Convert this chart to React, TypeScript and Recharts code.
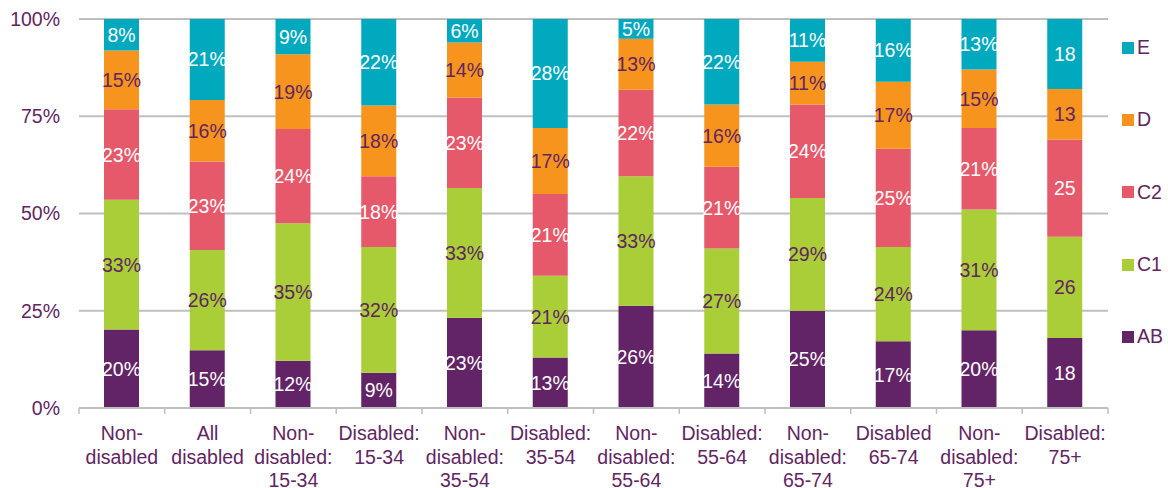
import React from "react";
import { BarChart, Bar, XAxis, YAxis, CartesianGrid, LabelList, Legend } from "recharts";

const categories = [
  "Non-disabled",
  "All disabled",
  "Non-disabled: 15-34",
  "Disabled: 15-34",
  "Non-disabled: 35-54",
  "Disabled: 35-54",
  "Non-disabled: 55-64",
  "Disabled: 55-64",
  "Non-disabled: 65-74",
  "Disabled 65-74",
  "Non-disabled: 75+",
  "Disabled: 75+",
];

const tickLines: string[][] = [
  ["Non-", "disabled"],
  ["All", "disabled"],
  ["Non-", "disabled:", "15-34"],
  ["Disabled:", "15-34"],
  ["Non-", "disabled:", "35-54"],
  ["Disabled:", "35-54"],
  ["Non-", "disabled:", "55-64"],
  ["Disabled:", "55-64"],
  ["Non-", "disabled:", "65-74"],
  ["Disabled", "65-74"],
  ["Non-", "disabled:", "75+"],
  ["Disabled:", "75+"],
];

const AB = [20, 15, 12, 9, 23, 13, 26, 14, 25, 17, 20, 18];
const C1 = [33, 26, 35, 32, 33, 21, 33, 27, 29, 24, 31, 26];
const C2 = [23, 23, 24, 18, 23, 21, 22, 21, 24, 25, 21, 25];
const D = [15, 16, 19, 18, 14, 17, 13, 16, 11, 17, 15, 13];
const E = [8, 21, 9, 22, 6, 28, 5, 22, 11, 16, 13, 18];

const labelSuffix = ["%", "%", "%", "%", "%", "%", "%", "%", "%", "%", "%", ""];

const yTicks = [0, 0.25, 0.5, 0.75, 1];

const data = categories.map((name, i) => ({
  name,
  AB: AB[i],
  C1: C1[i],
  C2: C2[i],
  D: D[i],
  E: E[i],
}));

const PURPLE = "#612562";
const FONT = "'Liberation Sans', Arial, sans-serif";
const FS = 19.5;

const series = [
  { key: "AB", color: "#622466", text: "#ffffff" },
  { key: "C1", color: "#A9CE38", text: PURPLE },
  { key: "C2", color: "#E6596A", text: "#ffffff" },
  { key: "D", color: "#F7941E", text: PURPLE },
  { key: "E", color: "#00A9BD", text: "#ffffff" },
];

const WIDTH = 1168;
const HEIGHT = 488;
const MARGIN = { top: 19, right: 60, left: 0, bottom: 0 };
const YAXIS_W = 79;
const XAXIS_H = 80;
const BAND = (WIDTH - MARGIN.right - YAXIS_W) / categories.length;

const makeLabel = (textColor: string) => (props: any) => {
  const { x, y, width, height, value, index } = props;
  return (
    <text
      x={Number(x) + Number(width) / 2}
      y={Number(y) + Number(height) / 2}
      textAnchor="middle"
      dominantBaseline="central"
      fill={textColor}
      fontSize={FS}
      fontFamily={FONT}
    >
      {`${value}${labelSuffix[index] ?? "%"}`}
    </text>
  );
};

const XTick = (props: any) => {
  const { x, y, index } = props;
  const lines = tickLines[index] || [];
  return (
    <g>
      <line x1={x - BAND / 2} x2={x - BAND / 2} y1={y} y2={y + 6} stroke="#BFBFBF" strokeWidth={1.5} />
      {index === categories.length - 1 && (
        <line x1={x + BAND / 2} x2={x + BAND / 2} y1={y} y2={y + 6} stroke="#BFBFBF" strokeWidth={1.5} />
      )}
      {lines.map((ln, i) => (
        <text
          key={i}
          x={x}
          y={y + 32 + i * 23.5}
          textAnchor="middle"
          fill={PURPLE}
          fontSize={FS}
          fontFamily={FONT}
        >
          {ln}
        </text>
      ))}
    </g>
  );
};

const legendItems = [...series].reverse();

const LegendContent = () => (
  <div style={{ fontFamily: FONT, fontSize: FS, color: PURPLE }}>
    {legendItems.map((s) => (
      <div key={s.key} style={{ height: 72.3, display: "flex", alignItems: "center" }}>
        <span style={{ display: "inline-block", width: 12, height: 12, background: s.color, marginRight: 3 }} />
        <span>{s.key}</span>
      </div>
    ))}
  </div>
);

export default function App() {
  return (
    <div style={{ position: "absolute", left: 0, top: 0, width: WIDTH, height: HEIGHT, background: "#fff" }}>
      <BarChart width={WIDTH} height={HEIGHT} data={data} margin={MARGIN} stackOffset="expand" barSize={35}>
        <CartesianGrid vertical={false} stroke="#BFBFBF" strokeWidth={2} />
        <XAxis
          dataKey="name"
          interval={0}
          height={XAXIS_H}
          tickLine={false}
          tickSize={0}
          tickMargin={0}
          axisLine={{ stroke: "#BFBFBF", strokeWidth: 2 }}
          tick={<XTick />}
        />
        <YAxis
          width={YAXIS_W}
          domain={[0, 1]}
          ticks={yTicks}
          axisLine={false}
          tickLine={false}
          tickSize={0}
          tickMargin={19}
          tickFormatter={(v: number) => `${Math.round(v * 100)}%`}
          tick={{ fill: PURPLE, fontSize: FS, fontFamily: FONT }}
        />
        <Legend
          layout="vertical"
          align="center"
          verticalAlign="middle"
          content={<LegendContent />}
          wrapperStyle={{ position: "absolute", left: 1122, top: 11.5, width: 46 }}
        />
        {series.map((s) => (
          <Bar key={s.key} dataKey={s.key} stackId="a" fill={s.color} isAnimationActive={false}>
            <LabelList dataKey={s.key} content={makeLabel(s.text)} />
          </Bar>
        ))}
      </BarChart>
    </div>
  );
}
